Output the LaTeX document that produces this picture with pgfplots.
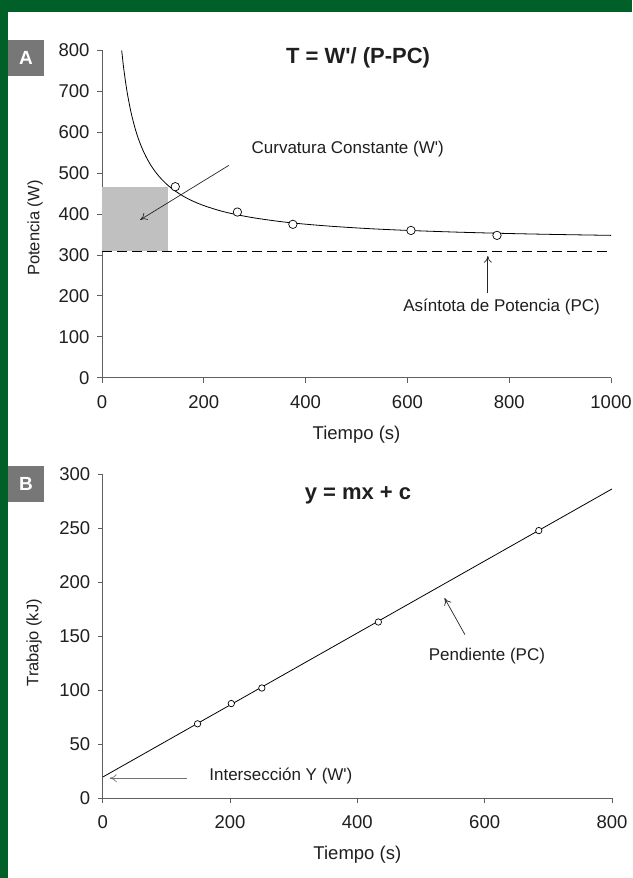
\documentclass[border=0pt]{standalone}
\usepackage{pgfplots}
\pgfplotsset{compat=1.18}
\usepackage{fontspec}
\setmainfont{Liberation Sans}[Ligatures=TeXOff]
\setsansfont{Liberation Sans}[Ligatures=TeXOff]
\usetikzlibrary{arrows.meta}

\definecolor{frameGreen}{RGB}{0,96,39}
\definecolor{boxGray}{RGB}{119,119,119}
\definecolor{rectGray}{RGB}{192,192,192}
\definecolor{axGray}{RGB}{95,95,95}

\tikzset{ann/.style={font=\fontsize{17}{17}\selectfont, text=black!88}}
\pgfplotsset{
  panel/.style={
    scale only axis, anchor=south west,
    axis x line*=bottom, axis y line*=left,
    axis line style={draw=axGray, line width=0.9pt},
    tick style={draw=axGray, line width=0.9pt},
    major tick length=5pt, tick align=outside,
    /pgf/number format/assume math mode=true,
    /pgf/number format/1000 sep={},
    ticklabel style={font=\fontsize{18.5}{18.5}\selectfont, text=black!88},
    xticklabel style={yshift=-9pt},
    yticklabel style={xshift=-4pt},
    every axis x label/.style={at={(axis description cs:0.5,0)}, anchor=center,
      yshift=-57pt, font=\fontsize{18.5}{18.5}\selectfont, text=black!88},
    clip=false,
  },
}

\begin{document}
\begin{tikzpicture}[x=1pt,y=1pt]
\useasboundingbox (0,0) rectangle (632,878);
\fill[white] (0,0) rectangle (632,878);
\fill[frameGreen] (0,866) rectangle (632,878);
\fill[frameGreen] (0,0) rectangle (7.5,878);

% panel labels
\fill[boxGray] (8,802.3) rectangle (44,838);
\node[white, font=\bfseries\fontsize{19}{19}\selectfont] at (26,820.2) {A};
\fill[boxGray] (8,376.3) rectangle (44,412);
\node[white, font=\bfseries\fontsize{19}{19}\selectfont] at (26,394.2) {B};

% A: power-duration
\begin{axis}[panel, at={(102pt,500.3pt)}, width=509pt, height=327.2pt,
  xmin=0, xmax=1000, ymin=0, ymax=800,
  xtick={0,200,...,1000}, ytick={0,100,...,800},
  xlabel={Tiempo (s)}, ylabel={Potencia (W)},
  every axis y label/.style={at={(axis description cs:0,0.5)}, anchor=center,
    xshift=-67pt, yshift=-14pt, rotate=90,
    font=\fontsize{16.5}{16.5}\selectfont, text=black!88},
]
\addplot[draw=none, fill=rectGray] coordinates {(0,310) (130,310) (130,467) (0,467)};
\addplot[black, line width=0.8pt, dash pattern=on 10pt off 5pt] coordinates {(0,310) (1000,310)};
\addplot[black, line width=0.8pt, smooth] coordinates {
  (38.7,800.0) (42,763.0) (46,725.4) (50,693.7) (55,660.6) (60,633.1)
  (66,605.5) (72,582.5) (80,557.3) (90,532.0) (100,511.8) (112,492.3)
  (125,475.4) (140,459.8) (160,443.5) (180,430.9) (200,420.8) (230,408.9)
  (260,399.8) (300,390.5) (350,381.8) (400,375.3) (460,369.4) (530,364.1)
  (600,360.1) (700,355.8) (800,352.5) (900,350.0) (1000,348.0)};
\addplot[only marks, mark=*, mark size=4.2pt, mark options={fill=white, draw=black, line width=0.7pt}]
  coordinates {(144,467) (266,405) (375,375) (607,360) (776,348)};
\node[font=\bfseries\fontsize{22}{22}\selectfont, text=black!88] at (axis cs:503,782) {T = W'/ (P-PC)};
\draw[black!85, line width=0.7pt, -{To[length=7pt,width=8pt]}] (axis cs:249,519) -- (axis cs:75,386);
\node[ann, anchor=west] at (axis cs:287,560) {Curvatura Constante (W')};
\draw[black!85, line width=0.7pt, -{To[length=7pt,width=8pt]}] (axis cs:758,208) -- (axis cs:758,298);
\node[ann] at (axis cs:785,172) {Asíntota de Potencia (PC)};
\end{axis}

% B: work-time
\begin{axis}[panel, at={(102.7pt,80pt)}, width=509.3pt, height=323.5pt,
  xmin=0, xmax=800, ymin=0, ymax=300,
  xtick={0,200,...,800}, ytick={0,50,...,300},
  xlabel={Tiempo (s)}, ylabel={Trabajo (kJ)},
  every axis y label/.style={at={(axis description cs:0,0.5)}, anchor=center,
    xshift=-68.7pt, yshift=-6.5pt, rotate=90,
    font=\fontsize{16.5}{16.5}\selectfont, text=black!88},
]
\addplot[black, line width=0.8pt] coordinates {(0,19.4) (800,286.6)};
\addplot[only marks, mark=*, mark size=3.2pt, mark options={fill=white, draw=black, line width=0.7pt}]
  coordinates {(149,68.8) (202,87.6) (250,102) (433,163.2) (685,248)};
\node[font=\bfseries\fontsize{22}{22}\selectfont, text=black!88] at (axis cs:401,281) {y = mx + c};
\draw[black!55, line width=0.7pt, -{To[length=7pt,width=8pt]}] (axis cs:132,18.4) -- (axis cs:11,18.4);
\node[ann, anchor=west] at (axis cs:162,20.6) {Intersección Y (W')};
\draw[black!85, line width=0.7pt, -{To[length=7pt,width=8pt]}] (axis cs:569,151.5) -- (axis cs:537,185.3);
\node[ann] at (axis cs:603.5,132) {Pendiente (PC)};
\end{axis}
\end{tikzpicture}
\end{document}
